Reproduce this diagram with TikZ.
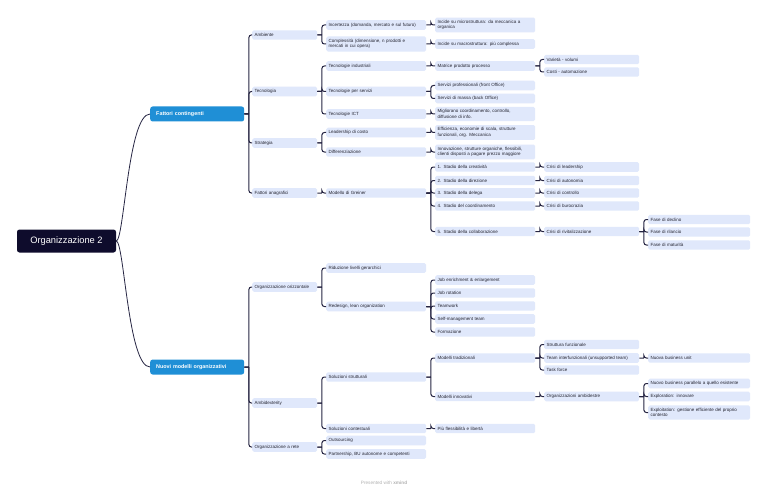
\documentclass[tikz,border=0pt]{standalone}
\usepackage{fontspec}
\setmainfont{Liberation Sans}
\definecolor{rootnavy}{HTML}{0E0C2C}
\definecolor{mainblue}{HTML}{1F8FD6}
\definecolor{leafblue}{HTML}{E0E8FB}
\definecolor{linknavy}{HTML}{262543}
\definecolor{leaftext}{HTML}{23232F}
\tikzset{
  box/.style={anchor=west, fill=leafblue, rounded corners=1.6pt, text=leaftext,
    align=left, inner xsep=2.5pt, inner ysep=2.7pt, minimum height=9.3pt,
    font=\fontsize{4.5}{5.4}\selectfont},
  l2/.style={box, text width=60pt},
  l3/.style={box, text width=95pt},
  l4/.style={box, text width=95pt},
  l5/.style={box, text width=90pt},
  l6/.style={box, text width=97pt},
  topic/.style={anchor=west, fill=mainblue, rounded corners=2.5pt, text=white,
    align=left, text width=82pt, inner xsep=6pt, inner ysep=0pt, minimum height=15pt,
    font=\fontsize{5.4}{6.4}\selectfont\bfseries},
  link/.style={draw=linknavy, line width=1pt, rounded corners=2.5pt,
    to path={(\tikztostart.east) -- ++(4.5,0) ++(0,0) |- (\tikztotarget.west)}}
}
\begin{document}
\begin{tikzpicture}[x=1pt,y=-1pt]
  \useasboundingbox[fill=white] (0,0) rectangle (768,500);
  \node[fill=rootnavy, rounded corners=2.5pt, text=white, minimum width=99pt,
    minimum height=23pt, font=\fontsize{9.3}{11}\selectfont] (root) at (66.5,241) {Organizzazione 2};
  \node[topic] (fc) at (150,114) {Fattori contingenti};
  \node[topic] (nm) at (150,367) {Nuovi modelli organizzativi};

  % fattori contingenti
  \node[l2] (amb) at (252,35) {Ambiente};
  \node[l2] (tec) at (252,91.5) {Tecnologia};
  \node[l2] (str) at (252,143) {Strategia};
  \node[l2] (ana) at (252,193) {Fattori anagrafici};

  \node[l3] (inc) at (326,25) {Incertezza (domanda, mercato e sul futuro)};
  \node[l3] (com) at (326,44) {Complessità (dimensione, n prodotti e\\mercati in cui opera)};
  \node[l3] (tind) at (326,66) {Tecnologie industriali};
  \node[l3] (tser) at (326,91.5) {Tecnologie per servizi};
  \node[l3] (tict) at (326,114) {Tecnologie ICT};
  \node[l3] (lea) at (326,132.5) {Leadership di costo};
  \node[l3] (dif) at (326,152) {Differenziazione};
  \node[l3] (grn) at (326,193) {Modello di Greiner};

  \node[l4] (mic) at (435,25) {Incide su microstruttura: da meccanica a\\organica};
  \node[l4] (mac) at (435,44) {Incide su macrostruttura: più complessa};
  \node[l4] (mat) at (435,66) {Matrice prodotto processo};
  \node[l4] (spro) at (435,85.5) {Servizi professionali (front Office)};
  \node[l4] (smas) at (435,98.5) {Servizi di massa (back Office)};
  \node[l4] (mig) at (435,114) {Migliorano coordinamento, controllo,\\diffusione di info.};
  \node[l4] (eff) at (435,132.5) {Efficienza, economie di scala, strutture\\funzionali, org. Meccanica};
  \node[l4] (inn) at (435,152) {Innovazione, strutture organiche, flessibili,\\clienti disposti a pagare prezzo maggiore};
  \node[l4] (s1) at (435,167) {1. Stadio della creatività};
  \node[l4] (s2) at (435,180.5) {2. Stadio della direzione};
  \node[l4] (s3) at (435,193) {3. Stadio della delega};
  \node[l4] (s4) at (435,206) {4. Stadio del coordinamento};
  \node[l4] (s5) at (435,231.5) {5. Stadio della collaborazione};

  \node[l5] (var) at (544,59.5) {Varietà - volumi};
  \node[l5] (cst) at (544,72) {Costi - automazione};
  \node[l5] (c1) at (544,167) {Crisi di leadership};
  \node[l5] (c2) at (544,180.5) {Crisi di autonomia};
  \node[l5] (c3) at (544,193) {Crisi di controllo};
  \node[l5] (c4) at (544,206) {Crisi di burocrazia};
  \node[l5] (c5) at (544,231.5) {Crisi di rivitalizzazione};

  \node[l6] (dec) at (648,219.5) {Fase di declino};
  \node[l6] (ril) at (648,232) {Fase di rilancio};
  \node[l6] (fmat) at (648,245) {Fase di maturità};

  % nuovi modelli
  \node[l2] (ori) at (252,287) {Organizzazione orizzontale};
  \node[l2] (amd) at (252,403) {Ambidexterity};
  \node[l2] (ret) at (252,447) {Organizzazione a rete};

  \node[l3] (rid) at (326,268) {Riduzione livelli gerarchici};
  \node[l3] (red) at (326,306.5) {Redesign, lean organization};
  \node[l3] (sst) at (326,377) {Soluzioni strutturali};
  \node[l3] (sct) at (326,428.5) {Soluzioni contestuali};
  \node[l3] (out) at (326,440.5) {Outsourcing};
  \node[l3] (par) at (326,454) {Partnership, BU autonome e competenti};

  \node[l4] (je) at (435,280) {Job enrichment \& enlargement};
  \node[l4] (jr) at (435,293) {Job rotation};
  \node[l4] (tw) at (435,306) {Teamwork};
  \node[l4] (sm) at (435,319) {Self-management team};
  \node[l4] (frm) at (435,332) {Formazione};
  \node[l4] (mtr) at (435,358) {Modelli tradizionali};
  \node[l4] (minn) at (435,396.5) {Modelli innovativi};
  \node[l4] (fle) at (435,428.5) {Più flessibilità e libertà};

  \node[l5] (sf) at (544,344.5) {Struttura funzionale};
  \node[l5] (ti) at (544,358) {Team interfunzionali (unsupported team)};
  \node[l5] (tf) at (544,370) {Task force};
  \node[l5] (oa) at (544,396.5) {Organizzazioni ambidestre};

  \node[l6] (nbu) at (648,358) {Nuova business unit};
  \node[l6] (nbp) at (648,383.5) {Nuovo business parallelo a quello esistente};
  \node[l6] (exr) at (648,396.5) {Exploration: innovare};
  \node[l6] (exi) at (648,412.5) {Exploitation: gestione efficiente del proprio\\contesto};

  \node[text=black!30, font=\fontsize{4.7}{5.5}\selectfont] (credit) at (384,483) {Presented with \textbf{xmind}};

  \draw[draw=linknavy, line width=0.8pt] (root.east) .. controls +(8,0) and +(-22,0) .. (fc.west);
  \draw[draw=linknavy, line width=0.8pt] (root.east) .. controls +(8,0) and +(-22,0) .. (nm.west);
  \begin{scope}[link]
    \draw (fc) to (amb);
    \draw (fc) to (tec);
    \draw (fc) to (str);
    \draw (fc) to (ana);
    \draw (amb) to (inc);
    \draw (amb) to (com);
    \draw (tec) to (tind);
    \draw (tec) to (tser);
    \draw (tec) to (tict);
    \draw (str) to (lea);
    \draw (str) to (dif);
    \draw (ana) to (grn);
    \draw (inc) to (mic);
    \draw (com) to (mac);
    \draw (tind) to (mat);
    \draw (tser) to (spro);
    \draw (tser) to (smas);
    \draw (tict) to (mig);
    \draw (lea) to (eff);
    \draw (dif) to (inn);
    \draw (grn) to (s1);
    \draw (grn) to (s2);
    \draw (grn) to (s3);
    \draw (grn) to (s4);
    \draw (grn) to (s5);
    \draw (mat) to (var);
    \draw (mat) to (cst);
    \draw (s1) to (c1);
    \draw (s2) to (c2);
    \draw (s3) to (c3);
    \draw (s4) to (c4);
    \draw (s5) to (c5);
    \draw (c5) to (dec);
    \draw (c5) to (ril);
    \draw (c5) to (fmat);
    \draw (nm) to (ori);
    \draw (nm) to (amd);
    \draw (nm) to (ret);
    \draw (ori) to (rid);
    \draw (ori) to (red);
    \draw (red) to (je);
    \draw (red) to (jr);
    \draw (red) to (tw);
    \draw (red) to (sm);
    \draw (red) to (frm);
    \draw (amd) to (sst);
    \draw (amd) to (sct);
    \draw (ret) to (out);
    \draw (ret) to (par);
    \draw (sst) to (mtr);
    \draw (sst) to (minn);
    \draw (sct) to (fle);
    \draw (mtr) to (sf);
    \draw (mtr) to (ti);
    \draw (mtr) to (tf);
    \draw (minn) to (oa);
    \draw (ti) to (nbu);
    \draw (oa) to (nbp);
    \draw (oa) to (exr);
    \draw (oa) to (exi);
  \end{scope}
\end{tikzpicture}
\end{document}
